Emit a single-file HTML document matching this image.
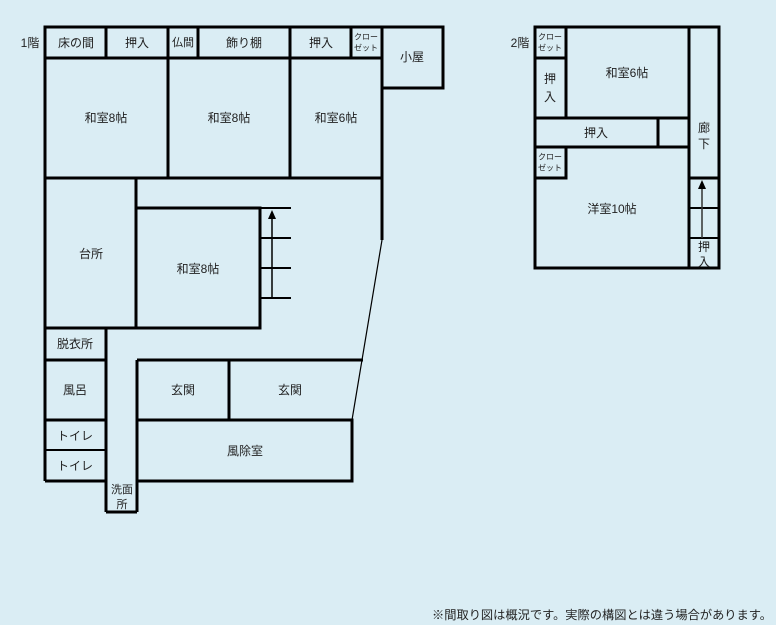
<!DOCTYPE html>
<html><head><meta charset="utf-8"><style>
body{margin:0;background:#daedf4;}
svg{display:block}
text{font-family:"Liberation Sans","Noto Sans CJK JP",sans-serif;font-size:12px;fill:#222;text-anchor:middle;dominant-baseline:central}
.s{font-size:8px}
</style></head><body>
<svg width="776" height="625" viewBox="0 0 776 625">
<rect width="776" height="625" fill="#daedf4"/>
<g stroke="#000" stroke-width="3" fill="none">
<rect x="45" y="27" width="337" height="31"/>
<line x1="106" y1="27" x2="106" y2="58"/><line x1="168" y1="27" x2="168" y2="58"/>
<line x1="198" y1="27" x2="198" y2="58"/><line x1="290" y1="27" x2="290" y2="58"/>
<line x1="351" y1="27" x2="351" y2="58"/>
<rect x="382" y="27" width="61" height="61"/>
<line x1="45" y1="58" x2="45" y2="481"/>
<line x1="168" y1="58" x2="168" y2="178"/><line x1="290" y1="58" x2="290" y2="178"/>
<line x1="382" y1="58" x2="382" y2="240"/>
<line x1="45" y1="178" x2="382" y2="178"/>
<line x1="136" y1="178" x2="136" y2="328"/>
<polyline points="136,208 260,208 260,328 45,328"/>
<line x1="260" y1="208" x2="291" y2="208" stroke-width="2"/>
<line x1="260" y1="238" x2="291" y2="238" stroke-width="2"/>
<line x1="260" y1="268" x2="291" y2="268" stroke-width="2"/>
<line x1="260" y1="298" x2="291" y2="298" stroke-width="2"/>
<line x1="106" y1="328" x2="106" y2="512"/>
<line x1="45" y1="360" x2="106" y2="360"/><line x1="45" y1="420" x2="106" y2="420"/>
<line x1="45" y1="450" x2="106" y2="450" stroke-width="2"/>
<line x1="45" y1="481" x2="106" y2="481"/>
<line x1="137" y1="360" x2="137" y2="512"/>
<line x1="137" y1="360" x2="363" y2="360"/>
<line x1="229" y1="360" x2="229" y2="420"/>
<rect x="137" y="420" width="215" height="61"/>
<line x1="106" y1="512" x2="137" y2="512"/>
<rect x="535" y="27" width="184" height="241"/>
<line x1="566" y1="27" x2="566" y2="118"/><line x1="535" y1="58" x2="566" y2="58"/>
<line x1="689" y1="27" x2="689" y2="268"/>
<line x1="535" y1="118" x2="689" y2="118"/>
<line x1="658" y1="118" x2="658" y2="148"/>
<line x1="535" y1="147" x2="689" y2="147"/>
<polyline points="535,178 566,178 566,147"/>
<line x1="689" y1="178" x2="719" y2="178"/>
<line x1="689" y1="208" x2="719" y2="208" stroke-width="2"/>
<line x1="689" y1="238" x2="719" y2="238" stroke-width="2"/>
</g>
<line x1="382" y1="240" x2="352" y2="420" stroke="#000" stroke-width="1.2"/>
<line x1="272" y1="298" x2="272" y2="218" stroke="#000" stroke-width="1.5"/>
<polygon points="268,219 276,219 272,210" fill="#000"/>
<line x1="702" y1="238" x2="702" y2="188" stroke="#333" stroke-width="1.5"/>
<polygon points="698,189 706,189 702,180" fill="#000"/>
<text x="30" y="43">1階</text>
<text x="76" y="43">床の間</text><text x="137" y="43">押入</text>
<text x="183" y="43" style="font-size:11px">仏間</text><text x="244" y="43">飾り棚</text>
<text x="321" y="43">押入</text>
<text x="366" y="37" class="s">クロー</text><text x="366" y="48" class="s">ゼット</text>
<text x="412" y="57">小屋</text>
<text x="106" y="118">和室8帖</text><text x="229" y="118">和室8帖</text><text x="336" y="118">和室6帖</text>
<text x="91" y="254">台所</text><text x="198" y="269">和室8帖</text>
<text x="75" y="344">脱衣所</text><text x="75" y="390">風呂</text>
<text x="75" y="436">トイレ</text><text x="75" y="466">トイレ</text>
<text x="183" y="390">玄関</text><text x="290" y="390">玄関</text>
<text x="245" y="451">風除室</text>
<text x="122" y="490" style="font-size:11px">洗面</text><text x="122" y="505" style="font-size:11px">所</text>
<text x="520" y="43">2階</text>
<text x="550" y="37" class="s">クロー</text><text x="550" y="48" class="s">ゼット</text>
<text x="550" y="79">押</text><text x="550" y="97">入</text>
<text x="627" y="73">和室6帖</text>
<text x="596" y="133">押入</text>
<text x="704" y="128">廊</text><text x="704" y="144">下</text>
<text x="550" y="157" class="s">クロー</text><text x="550" y="168" class="s">ゼット</text>
<text x="612" y="209">洋室10帖</text>
<text x="704" y="247">押</text><text x="704" y="262">入</text>
<text x="602" y="615" style="font-size:12px" textLength="340" lengthAdjust="spacingAndGlyphs">※間取り図は概況です。実際の構図とは違う場合があります。</text>
</svg>
</body></html>
